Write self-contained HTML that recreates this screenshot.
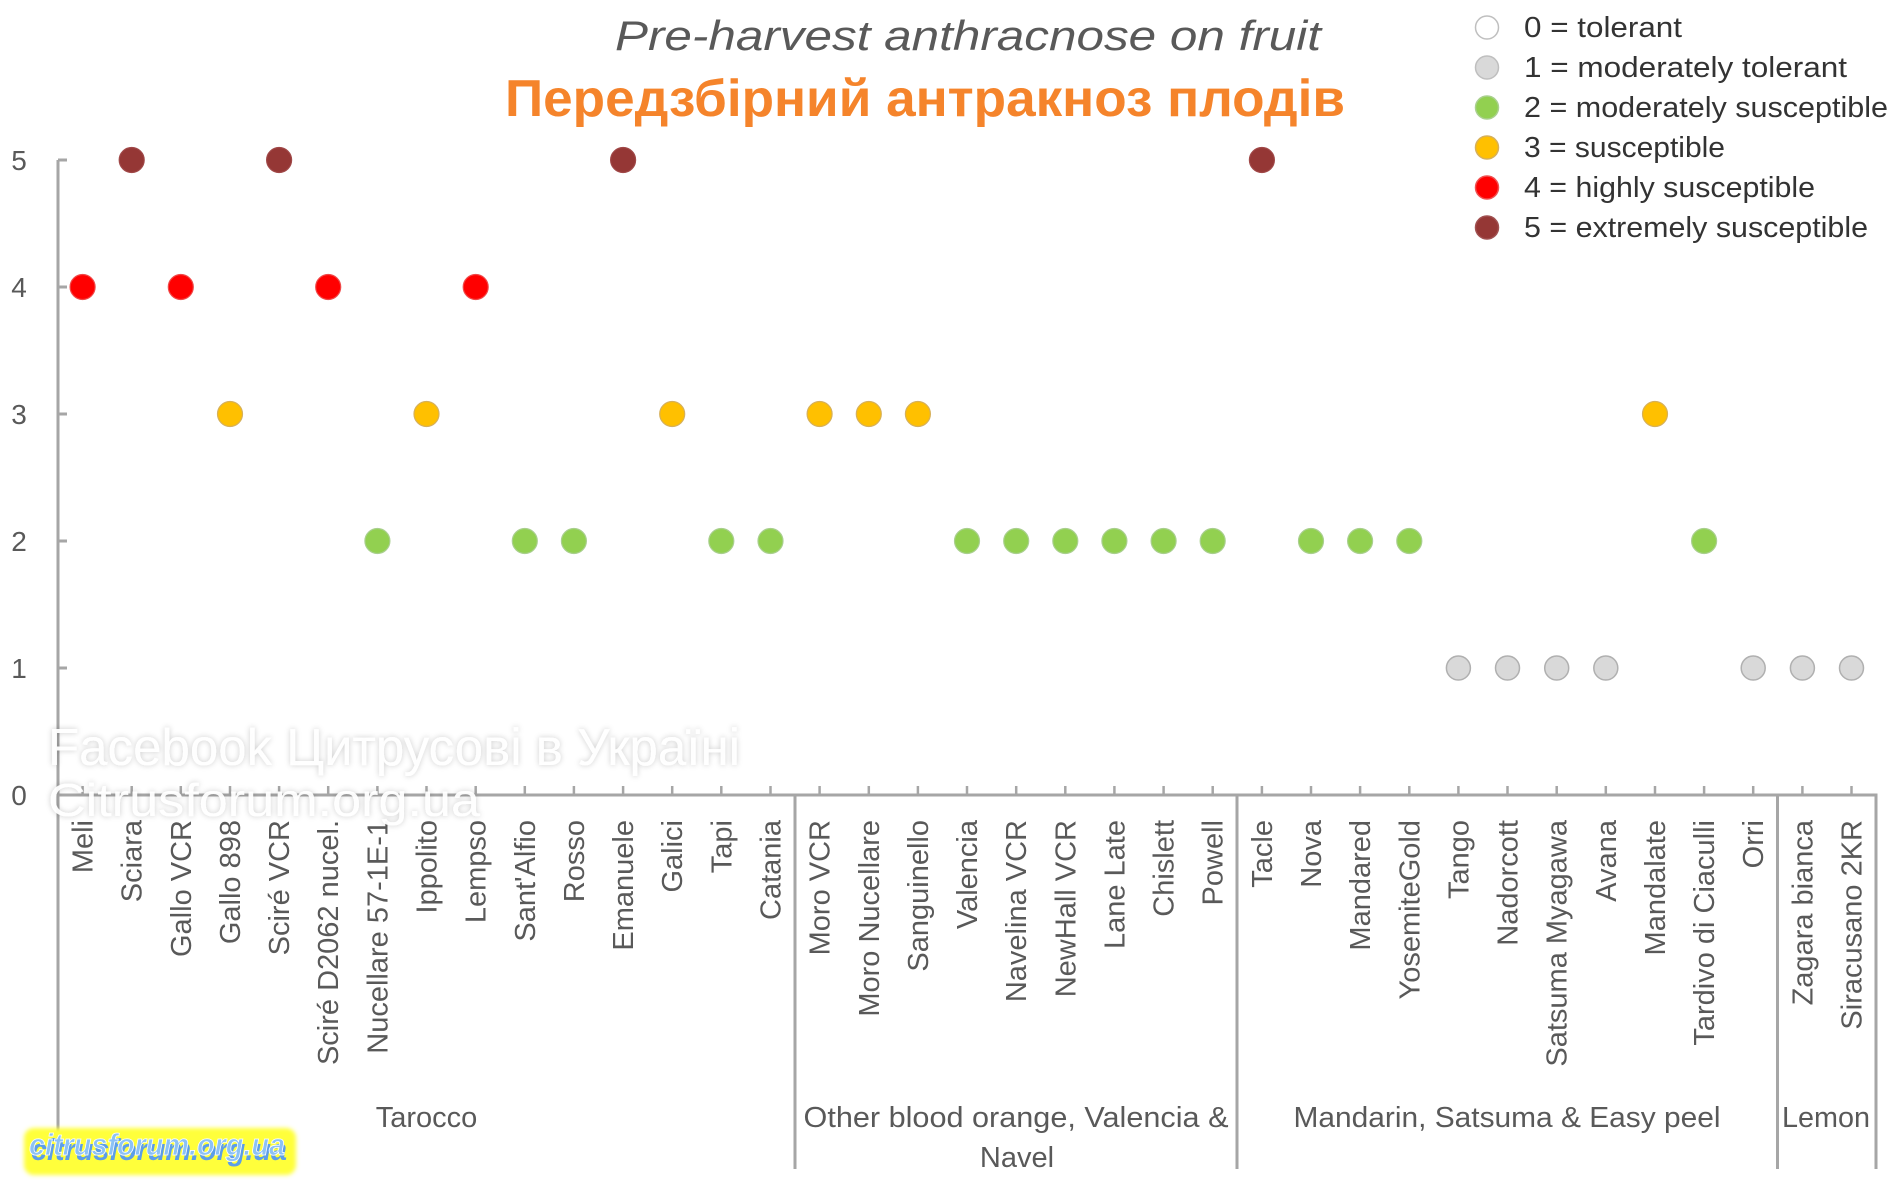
<!DOCTYPE html>
<html><head><meta charset="utf-8"><style>
html,body{margin:0;padding:0;background:#fff;}
svg{display:block;}
text{font-family:"Liberation Sans","DejaVu Sans",sans-serif;}
</style></head><body>
<svg width="1900" height="1183" viewBox="0 0 1900 1183" xmlns="http://www.w3.org/2000/svg">
<defs>
<filter id="glow" x="-10%" y="-30%" width="120%" height="160%">
<feGaussianBlur in="SourceAlpha" stdDeviation="3" result="b"/>
<feFlood flood-color="#000" flood-opacity="0.22"/>
<feComposite in2="b" operator="in" result="s"/>
<feMerge><feMergeNode in="s"/><feMergeNode in="SourceGraphic"/></feMerge>
</filter>
<filter id="soft" x="-5%" y="-20%" width="110%" height="140%"><feGaussianBlur stdDeviation="2"/></filter>
</defs>
<rect width="1900" height="1183" fill="#fff"/>

<!-- Titles -->
<text x="615" y="50" font-size="42" font-style="italic" fill="#595959" textLength="706" lengthAdjust="spacingAndGlyphs">Pre-harvest anthracnose on fruit</text>
<text x="505" y="116" font-size="52" font-weight="bold" fill="#F5842B" textLength="840" lengthAdjust="spacingAndGlyphs" style='font-family:"Liberation Sans","Noto Sans CJK SC",sans-serif'>Передзбірний антракноз плодів</text>

<!-- Legend -->
<g stroke-width="1.5">
<circle cx="1487" cy="27.5" r="11.5" fill="#fff" stroke="#bfbfbf"/>
<circle cx="1487" cy="67.5" r="11.5" fill="#d9d9d9" stroke="#bfbfbf"/>
<circle cx="1487" cy="107.5" r="11.5" fill="#92d050" stroke="#a9d08e"/>
<circle cx="1487" cy="147.5" r="11.5" fill="#ffc000" stroke="#d6b05a"/>
<circle cx="1487" cy="187.5" r="11.5" fill="#ff0000" stroke="#f05050"/>
<circle cx="1487" cy="227.5" r="11.5" fill="#953735" stroke="#a05050"/>
</g>
<g font-size="29" fill="#333">
<text x="1524" y="37" textLength="158" lengthAdjust="spacingAndGlyphs">0 = tolerant</text>
<text x="1524" y="77" textLength="323" lengthAdjust="spacingAndGlyphs">1 = moderately tolerant</text>
<text x="1524" y="117" textLength="364" lengthAdjust="spacingAndGlyphs">2 = moderately susceptible</text>
<text x="1524" y="157" textLength="201" lengthAdjust="spacingAndGlyphs">3 = susceptible</text>
<text x="1524" y="197" textLength="291" lengthAdjust="spacingAndGlyphs">4 = highly susceptible</text>
<text x="1524" y="237" textLength="344" lengthAdjust="spacingAndGlyphs">5 = extremely susceptible</text>
</g>

<!-- Y axis labels -->
<g font-size="28" fill="#595959" text-anchor="middle">
<text x="19" y="170">5</text>
<text x="19" y="297">4</text>
<text x="19" y="424">3</text>
<text x="19" y="551">2</text>
<text x="19" y="678">1</text>
<text x="19" y="805">0</text>
</g>

<!-- Axes -->
<g stroke="#a6a6a6" stroke-width="3" fill="none">
<line x1="58" y1="160" x2="58" y2="1169"/>
<line x1="56.5" y1="795" x2="1877.5" y2="795"/>
<line x1="795" y1="795" x2="795" y2="1169"/>
<line x1="1237" y1="795" x2="1237" y2="1169"/>
<line x1="1777.5" y1="795" x2="1777.5" y2="1169"/>
<line x1="1876" y1="795" x2="1876" y2="1169"/>
<!-- y ticks -->
<line x1="58" y1="160" x2="67" y2="160"/>
<line x1="58" y1="287" x2="67" y2="287"/>
<line x1="58" y1="414" x2="67" y2="414"/>
<line x1="58" y1="541" x2="67" y2="541"/>
<line x1="58" y1="668" x2="67" y2="668"/>
</g>
<g stroke="#a6a6a6" stroke-width="2.5">
<line x1="82.6" y1="786" x2="82.6" y2="795"/><line x1="131.7" y1="786" x2="131.7" y2="795"/><line x1="180.8" y1="786" x2="180.8" y2="795"/><line x1="230" y1="786" x2="230" y2="795"/><line x1="279.1" y1="786" x2="279.1" y2="795"/><line x1="328.2" y1="786" x2="328.2" y2="795"/><line x1="377.4" y1="786" x2="377.4" y2="795"/><line x1="426.5" y1="786" x2="426.5" y2="795"/><line x1="475.7" y1="786" x2="475.7" y2="795"/><line x1="524.8" y1="786" x2="524.8" y2="795"/><line x1="573.9" y1="786" x2="573.9" y2="795"/><line x1="623.1" y1="786" x2="623.1" y2="795"/><line x1="672.2" y1="786" x2="672.2" y2="795"/><line x1="721.3" y1="786" x2="721.3" y2="795"/><line x1="770.5" y1="786" x2="770.5" y2="795"/><line x1="819.6" y1="786" x2="819.6" y2="795"/><line x1="868.8" y1="786" x2="868.8" y2="795"/><line x1="917.9" y1="786" x2="917.9" y2="795"/><line x1="967" y1="786" x2="967" y2="795"/><line x1="1016.2" y1="786" x2="1016.2" y2="795"/><line x1="1065.3" y1="786" x2="1065.3" y2="795"/><line x1="1114.4" y1="786" x2="1114.4" y2="795"/><line x1="1163.6" y1="786" x2="1163.6" y2="795"/><line x1="1212.7" y1="786" x2="1212.7" y2="795"/><line x1="1261.9" y1="786" x2="1261.9" y2="795"/><line x1="1311" y1="786" x2="1311" y2="795"/><line x1="1360.1" y1="786" x2="1360.1" y2="795"/><line x1="1409.3" y1="786" x2="1409.3" y2="795"/><line x1="1458.4" y1="786" x2="1458.4" y2="795"/><line x1="1507.5" y1="786" x2="1507.5" y2="795"/><line x1="1556.7" y1="786" x2="1556.7" y2="795"/><line x1="1605.8" y1="786" x2="1605.8" y2="795"/><line x1="1655" y1="786" x2="1655" y2="795"/><line x1="1704.1" y1="786" x2="1704.1" y2="795"/><line x1="1753.2" y1="786" x2="1753.2" y2="795"/><line x1="1802.4" y1="786" x2="1802.4" y2="795"/><line x1="1851.5" y1="786" x2="1851.5" y2="795"/>
</g>

<!-- Data points -->
<g stroke-width="1.2">
<circle cx="82.6" cy="287" r="12.5" fill="#ff0000" stroke="#f04848"/>
<circle cx="131.7" cy="160" r="12.5" fill="#953735" stroke="#a04848"/>
<circle cx="180.8" cy="287" r="12.5" fill="#ff0000" stroke="#f04848"/>
<circle cx="230" cy="414" r="12.5" fill="#ffc000" stroke="#d6b05a"/>
<circle cx="279.1" cy="160" r="12.5" fill="#953735" stroke="#a04848"/>
<circle cx="328.2" cy="287" r="12.5" fill="#ff0000" stroke="#f04848"/>
<circle cx="377.4" cy="541" r="12.5" fill="#92d050" stroke="#a9cf8e"/>
<circle cx="426.5" cy="414" r="12.5" fill="#ffc000" stroke="#d6b05a"/>
<circle cx="475.7" cy="287" r="12.5" fill="#ff0000" stroke="#f04848"/>
<circle cx="524.8" cy="541" r="12.5" fill="#92d050" stroke="#a9cf8e"/>
<circle cx="573.9" cy="541" r="12.5" fill="#92d050" stroke="#a9cf8e"/>
<circle cx="623.1" cy="160" r="12.5" fill="#953735" stroke="#a04848"/>
<circle cx="672.2" cy="414" r="12.5" fill="#ffc000" stroke="#d6b05a"/>
<circle cx="721.3" cy="541" r="12.5" fill="#92d050" stroke="#a9cf8e"/>
<circle cx="770.5" cy="541" r="12.5" fill="#92d050" stroke="#a9cf8e"/>
<circle cx="819.6" cy="414" r="12.5" fill="#ffc000" stroke="#d6b05a"/>
<circle cx="868.8" cy="414" r="12.5" fill="#ffc000" stroke="#d6b05a"/>
<circle cx="917.9" cy="414" r="12.5" fill="#ffc000" stroke="#d6b05a"/>
<circle cx="967" cy="541" r="12.5" fill="#92d050" stroke="#a9cf8e"/>
<circle cx="1016.2" cy="541" r="12.5" fill="#92d050" stroke="#a9cf8e"/>
<circle cx="1065.3" cy="541" r="12.5" fill="#92d050" stroke="#a9cf8e"/>
<circle cx="1114.4" cy="541" r="12.5" fill="#92d050" stroke="#a9cf8e"/>
<circle cx="1163.6" cy="541" r="12.5" fill="#92d050" stroke="#a9cf8e"/>
<circle cx="1212.7" cy="541" r="12.5" fill="#92d050" stroke="#a9cf8e"/>
<circle cx="1261.9" cy="160" r="12.5" fill="#953735" stroke="#a04848"/>
<circle cx="1311" cy="541" r="12.5" fill="#92d050" stroke="#a9cf8e"/>
<circle cx="1360.1" cy="541" r="12.5" fill="#92d050" stroke="#a9cf8e"/>
<circle cx="1409.3" cy="541" r="12.5" fill="#92d050" stroke="#a9cf8e"/>
<circle cx="1458.4" cy="668" r="12" fill="#d9d9d9" stroke="#b0b0b0" stroke-width="1.5"/>
<circle cx="1507.5" cy="668" r="12" fill="#d9d9d9" stroke="#b0b0b0" stroke-width="1.5"/>
<circle cx="1556.7" cy="668" r="12" fill="#d9d9d9" stroke="#b0b0b0" stroke-width="1.5"/>
<circle cx="1605.8" cy="668" r="12" fill="#d9d9d9" stroke="#b0b0b0" stroke-width="1.5"/>
<circle cx="1655" cy="414" r="12.5" fill="#ffc000" stroke="#d6b05a"/>
<circle cx="1704.1" cy="541" r="12.5" fill="#92d050" stroke="#a9cf8e"/>
<circle cx="1753.2" cy="668" r="12" fill="#d9d9d9" stroke="#b0b0b0" stroke-width="1.5"/>
<circle cx="1802.4" cy="668" r="12" fill="#d9d9d9" stroke="#b0b0b0" stroke-width="1.5"/>
<circle cx="1851.5" cy="668" r="12" fill="#d9d9d9" stroke="#b0b0b0" stroke-width="1.5"/>
</g>

<!-- Category labels -->
<g font-size="29" fill="#595959" text-anchor="end">
<text transform="translate(92.6,820) rotate(-90)">Meli</text>
<text transform="translate(141.7,820) rotate(-90)">Sciara</text>
<text transform="translate(190.8,820) rotate(-90)">Gallo VCR</text>
<text transform="translate(240,820) rotate(-90)">Gallo 898</text>
<text transform="translate(289.1,820) rotate(-90)">Sciré VCR</text>
<text transform="translate(338.2,820) rotate(-90)">Sciré D2062 nucel.</text>
<text transform="translate(387.4,820) rotate(-90)">Nucellare 57-1E-1</text>
<text transform="translate(436.5,820) rotate(-90)">Ippolito</text>
<text transform="translate(485.7,820) rotate(-90)">Lempso</text>
<text transform="translate(534.8,820) rotate(-90)">Sant'Alfio</text>
<text transform="translate(583.9,820) rotate(-90)">Rosso</text>
<text transform="translate(633.1,820) rotate(-90)">Emanuele</text>
<text transform="translate(682.2,820) rotate(-90)">Galici</text>
<text transform="translate(731.3,820) rotate(-90)">Tapi</text>
<text transform="translate(780.5,820) rotate(-90)">Catania</text>
<text transform="translate(829.6,820) rotate(-90)">Moro VCR</text>
<text transform="translate(878.8,820) rotate(-90)">Moro Nucellare</text>
<text transform="translate(927.9,820) rotate(-90)">Sanguinello</text>
<text transform="translate(977,820) rotate(-90)">Valencia</text>
<text transform="translate(1026.2,820) rotate(-90)">Navelina VCR</text>
<text transform="translate(1075.3,820) rotate(-90)">NewHall VCR</text>
<text transform="translate(1124.4,820) rotate(-90)">Lane Late</text>
<text transform="translate(1173.6,820) rotate(-90)">Chislett</text>
<text transform="translate(1222.7,820) rotate(-90)">Powell</text>
<text transform="translate(1271.9,820) rotate(-90)">Tacle</text>
<text transform="translate(1321,820) rotate(-90)">Nova</text>
<text transform="translate(1370.1,820) rotate(-90)">Mandared</text>
<text transform="translate(1419.3,820) rotate(-90)">YosemiteGold</text>
<text transform="translate(1468.4,820) rotate(-90)">Tango</text>
<text transform="translate(1517.5,820) rotate(-90)">Nadorcott</text>
<text transform="translate(1566.7,820) rotate(-90)">Satsuma Myagawa</text>
<text transform="translate(1615.8,820) rotate(-90)">Avana</text>
<text transform="translate(1665,820) rotate(-90)">Mandalate</text>
<text transform="translate(1714.1,820) rotate(-90)">Tardivo di Ciaculli</text>
<text transform="translate(1763.2,820) rotate(-90)">Orri</text>
<text transform="translate(1812.4,820) rotate(-90)">Zagara bianca</text>
<text transform="translate(1861.5,820) rotate(-90)">Siracusano 2KR</text>
</g>

<!-- Group labels -->
<g font-size="29" fill="#595959" text-anchor="middle">
<text x="426.5" y="1127">Tarocco</text>
<text x="1016" y="1127" textLength="425" lengthAdjust="spacingAndGlyphs">Other blood orange, Valencia &amp;</text>
<text x="1017" y="1167">Navel</text>
<text x="1507" y="1127" textLength="427" lengthAdjust="spacingAndGlyphs">Mandarin, Satsuma &amp; Easy peel</text>
<text x="1826" y="1127" textLength="88" lengthAdjust="spacingAndGlyphs">Lemon</text>
</g>

<!-- Watermark -->
<g fill="#ffffff" filter="url(#glow)" fill-opacity="0.95" style='font-family:"Liberation Sans","Noto Sans CJK SC",sans-serif'>
<text x="48" y="765" font-size="52" textLength="692" lengthAdjust="spacingAndGlyphs">Facebook Цитрусові в Україні</text>
<text x="48" y="816" font-size="46" textLength="432" lengthAdjust="spacingAndGlyphs">Citrusforum.org.ua</text>
</g>

<!-- Bottom logo -->
<rect x="24" y="1128" width="272" height="47" rx="10" fill="#ffff3a" filter="url(#soft)"/>
<text x="31" y="1160" font-size="31" font-weight="bold" font-style="italic" fill="#5c9ee8" textLength="256" lengthAdjust="spacingAndGlyphs">citrusforum.org.ua</text>
<text x="29" y="1155" font-size="31" font-weight="bold" font-style="italic" fill="#8cc2f5" stroke="#ffffff" stroke-width="0.8" textLength="256" lengthAdjust="spacingAndGlyphs">citrusforum.org.ua</text>
</svg>
</body></html>
